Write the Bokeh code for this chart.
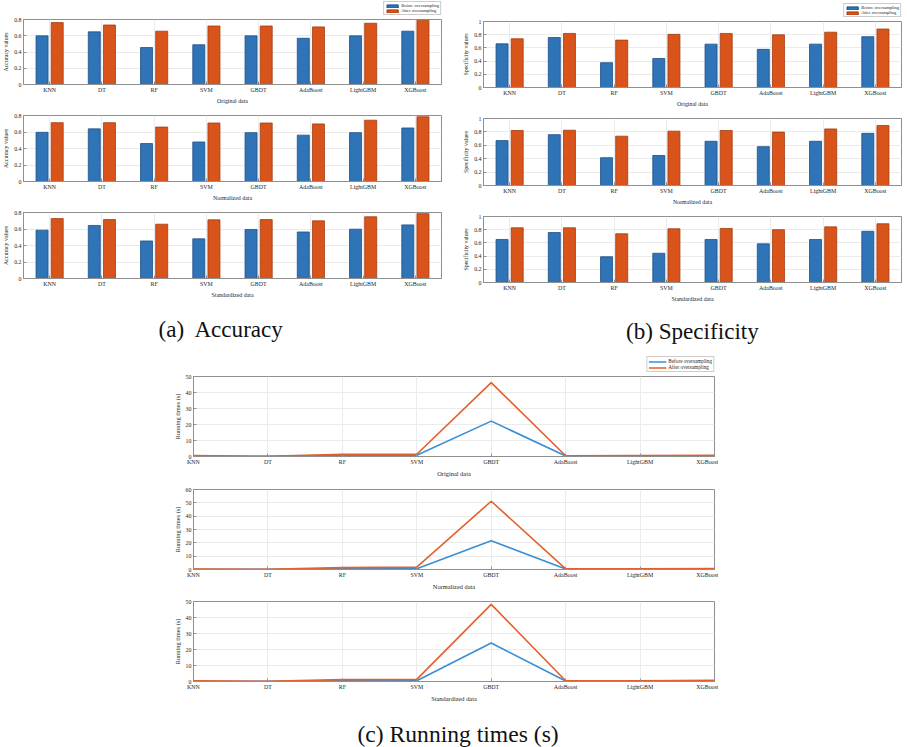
import numpy as np
from bokeh.plotting import figure
from bokeh.models import (Range1d, FixedTicker, NumeralTickFormatter, Legend, LegendItem,
                          Div, Spacer, ColumnDataSource)
from bokeh.transform import dodge
from bokeh.layouts import column, row
from bokeh.embed import file_html
from bokeh.resources import INLINE

# ---------------- data ----------------
models = ["KNN", "DT", "RF", "SVM", "GBDT", "AdaBoost", "LightGBM", "XGBoost"]
series_labels = ["Before oversampling", "After oversampling"]
data_kinds = ["Original data", "Normalized data", "Standardized data"]

acc_before_original = [0.599, 0.648, 0.455, 0.489, 0.599, 0.569, 0.599, 0.656]
acc_after_original = [0.762, 0.732, 0.656, 0.720, 0.720, 0.709, 0.754, 0.792]
acc_before_normalized = [0.596, 0.638, 0.460, 0.479, 0.592, 0.562, 0.592, 0.649]
acc_after_normalized = [0.713, 0.713, 0.660, 0.709, 0.709, 0.698, 0.743, 0.785]
acc_before_standardized = [0.586, 0.643, 0.455, 0.481, 0.594, 0.564, 0.598, 0.650]
acc_after_standardized = [0.726, 0.714, 0.658, 0.711, 0.714, 0.699, 0.748, 0.786]

spec_before_original = [0.662, 0.757, 0.376, 0.440, 0.657, 0.578, 0.657, 0.770]
spec_after_original = [0.738, 0.819, 0.718, 0.805, 0.819, 0.798, 0.838, 0.886]
spec_before_normalized = [0.670, 0.759, 0.415, 0.448, 0.660, 0.580, 0.660, 0.778]
spec_after_normalized = [0.821, 0.825, 0.736, 0.811, 0.821, 0.797, 0.844, 0.896]
spec_before_standardized = [0.652, 0.757, 0.390, 0.443, 0.652, 0.586, 0.652, 0.776]
spec_after_standardized = [0.829, 0.829, 0.738, 0.814, 0.819, 0.800, 0.843, 0.890]

time_before_original = [0.3, 0.1, 0.8, 0.8, 22.1, 0.3, 0.3, 0.4]
time_after_original = [0.6, 0.1, 1.3, 1.4, 46.2, 0.5, 0.6, 0.7]
time_before_normalized = [0.2, 0.1, 0.7, 0.6, 21.5, 0.3, 0.3, 0.4]
time_after_normalized = [0.4, 0.2, 1.4, 1.8, 51.2, 0.5, 0.6, 0.8]
time_before_standardized = [0.2, 0.1, 0.6, 0.5, 24.1, 0.3, 0.3, 0.4]
time_after_standardized = [0.4, 0.1, 1.2, 1.3, 48.2, 0.5, 0.5, 0.7]

acc_ticks = [0, 0.2, 0.4, 0.6, 0.8]
spec_ticks = [0, 0.2, 0.4, 0.6, 0.8, 1]
time_ticks_50 = [0, 10, 20, 30, 40, 50]
time_ticks_60 = [0, 10, 20, 30, 40, 50, 60]

captions = ["(a)&nbsp; Accuracy", "(b) Specificity", "(c) Running times (s)"]

# ---------------- style ----------------
S = 0.985
def sc(v):
    return int(round(v * S))

SERIF = "Liberation Serif"
BAR_BLUE, BAR_BLUE_EDGE = "#2F74B6", "#1E4F88"
BAR_ORANGE, BAR_ORANGE_EDGE = "#D9541A", "#A33B10"
LINE_BLUE, LINE_ORANGE = "#3A8ED4", "#E2602B"
FRAME = "#8f8f8f"
GRID = "#ebebeb"
TXT = "#262626"


def make_fig(W, H, L, R, T, B, xr, yr):
    return figure(width=sc(W), height=sc(H), x_range=xr, y_range=yr,
                  output_backend="svg", toolbar_location=None,
                  min_border_left=sc(L), min_border_right=sc(R),
                  min_border_top=sc(T), min_border_bottom=sc(B))


def style(p, xticks, yticks, xlabel, ylabel, fs_tick, fs_lab):
    p.xaxis.ticker = FixedTicker(ticks=list(xticks))
    p.xaxis.major_label_overrides = {int(t): m for t, m in zip(xticks, models)}
    p.yaxis.ticker = FixedTicker(ticks=yticks)
    p.yaxis.formatter = NumeralTickFormatter(format="0.[0]")
    p.xaxis.axis_label = xlabel
    p.yaxis.axis_label = ylabel
    for ax in p.axis:
        ax.major_label_text_font = SERIF
        ax.major_label_text_font_size = f"{fs_tick * S:.1f}px"
        ax.major_label_text_color = TXT
        ax.axis_label_text_font = SERIF
        ax.axis_label_text_font_style = "normal"
        ax.axis_label_text_font_size = f"{fs_lab * S:.1f}px"
        ax.axis_label_text_color = TXT
        ax.major_tick_in = 3
        ax.major_tick_out = 0
        ax.minor_tick_line_color = None
        ax.axis_line_color = FRAME
        ax.major_tick_line_color = FRAME
        ax.major_label_standoff = 2
        ax.axis_label_standoff = 2
    p.grid.grid_line_color = GRID
    p.outline_line_color = FRAME
    p.background_fill_color = "white"
    p.border_fill_color = "white"


def legend_box(kind, w, h, fs, gw, gh):
    """A small legend panel drawn above the first subplot of a column.
    The proxy glyphs sit outside the (hidden) ranges, so only their legend swatches show."""
    lp = figure(width=sc(w), height=sc(h), x_range=Range1d(0, 1), y_range=Range1d(0, 1),
                x_axis_type=None, y_axis_type=None, output_backend="svg",
                toolbar_location=None, min_border=0, outline_line_color=None)
    lp.grid.visible = False
    lp.background_fill_color = "white"
    lp.border_fill_color = "white"
    proxy = ColumnDataSource(dict(x=[-5, -4], y=[-5, -4]))
    if kind == "bar":
        r1 = lp.vbar(x="x", top="y", width=0.2, source=proxy,
                     fill_color=BAR_BLUE, line_color=BAR_BLUE_EDGE)
        r2 = lp.vbar(x="x", top="y", width=0.2, source=proxy,
                     fill_color=BAR_ORANGE, line_color=BAR_ORANGE_EDGE)
    else:
        r1 = lp.line(x="x", y="y", source=proxy, line_color=LINE_BLUE, line_width=1.6)
        r2 = lp.line(x="x", y="y", source=proxy, line_color=LINE_ORANGE, line_width=1.6)
    items = [LegendItem(label=lab, renderers=[r]) for lab, r in zip(series_labels, [r1, r2])]
    lg = Legend(items=items, location="bottom_right", orientation="vertical",
                label_text_font=SERIF, label_text_font_size=f"{fs * S:.1f}px",
                label_text_color=TXT, glyph_width=sc(gw), glyph_height=sc(gh),
                label_height=sc(gh), label_standoff=2, spacing=0, padding=1,
                margin=1, border_line_color="#9a9a9a", border_line_width=1,
                background_fill_color="white", background_fill_alpha=1)
    lp.add_layout(lg, "center")
    return lp


def bar_fig(dims, before, after, ymax, yticks, xlabel, ylabel):
    W, H, L, R, T, B = dims
    n = len(models)
    p = make_fig(W, H, L, R, T, B, Range1d(0.5, n + 0.5), Range1d(0, ymax))
    src = ColumnDataSource(dict(x=list(range(1, n + 1)), before=before, after=after))
    p.vbar(x=dodge("x", -0.145), top="before", width=0.23, source=src,
           fill_color=BAR_BLUE, line_color=BAR_BLUE_EDGE, line_width=0.8)
    p.vbar(x=dodge("x", 0.145), top="after", width=0.23, source=src,
           fill_color=BAR_ORANGE, line_color=BAR_ORANGE_EDGE, line_width=0.8)
    style(p, range(1, n + 1), yticks, xlabel, ylabel, 6, 6)
    return p


def line_fig(dims, before, after, ymax, yticks, xlabel):
    W, H, L, R, T, B = dims
    n = len(models)
    p = make_fig(W, H, L, R, T, B, Range1d(1, n), Range1d(0, ymax))
    xs = list(range(1, n + 1))
    p.line(xs, before, line_color=LINE_BLUE, line_width=1.6)
    p.line(xs, after, line_color=LINE_ORANGE, line_width=1.6)
    style(p, xs, yticks, xlabel, "Running times (s)", 6, 6.5)
    return p


def caption(text, W, H, cx, cy, fs):
    html = (f'<div style="margin-left:{(cx - 200) * S:.1f}px; width:{400 * S:.1f}px; '
            f'text-align:center; padding-top:{(cy - 14) * S:.1f}px; '
            f'font-family:\'{SERIF}\'; font-size:{fs * S:.1f}px; line-height:{28 * S:.1f}px; '
            f'color:#111; white-space:nowrap;">{text}</div>')
    return Div(text=html, width=sc(W), height=sc(H))


def legend_row(fig_w, right_border, leg_w, leg_fig):
    return row(Spacer(width=sc(fig_w) - sc(right_border) - sc(leg_w) + 1, height=sc(4)),
               leg_fig, spacing=0)


# ---------------- panels ----------------
# (width, height, left, right, top, bottom) in reference pixels
dA1, dA2, dA3 = (450, 91, 20, 2, 3, 18), (450, 98, 20, 2, 9, 18), (450, 98, 20, 2, 9, 18)
dB1, dB2, dB3 = (457, 92, 30, 2, 3, 19), (457, 99, 30, 2, 9, 19), (457, 98, 30, 2, 9, 19)
dC1, dC2, dC3 = (563, 108, 30, 4, 3, 23), (563, 115, 30, 4, 10, 23), (563, 115, 30, 4, 9, 24)

legA = legend_box("bar", 62, 16, 4.6, 14, 4)
legB = legend_box("bar", 62, 18, 4.6, 14, 4)
legC = legend_box("line", 78, 22, 5.3, 18, 5)

a1 = bar_fig(dA1, acc_before_original, acc_after_original, 0.8, acc_ticks,
             data_kinds[0], "Accuracy values")
a2 = bar_fig(dA2, acc_before_normalized, acc_after_normalized, 0.8, acc_ticks,
             data_kinds[1], "Accuracy values")
a3 = bar_fig(dA3, acc_before_standardized, acc_after_standardized, 0.8, acc_ticks,
             data_kinds[2], "Accuracy values")
capA = caption(captions[0], 450, 42, 219, 25, 23.5)

b1 = bar_fig(dB1, spec_before_original, spec_after_original, 1.0, spec_ticks,
             data_kinds[0], "Specificity values")
b2 = bar_fig(dB2, spec_before_normalized, spec_after_normalized, 1.0, spec_ticks,
             data_kinds[1], "Specificity values")
b3 = bar_fig(dB3, spec_before_standardized, spec_after_standardized, 1.0, spec_ticks,
             data_kinds[2], "Specificity values")
capB = caption(captions[1], 457, 38, 238, 23, 23.5)

c1 = line_fig(dC1, time_before_original, time_after_original, 50, time_ticks_50, data_kinds[0])
c2 = line_fig(dC2, time_before_normalized, time_after_normalized, 60, time_ticks_60, data_kinds[1])
c3 = line_fig(dC3, time_before_standardized, time_after_standardized, 50, time_ticks_50, data_kinds[2])
capC = caption(captions[2], 563, 42, 294.5, 25, 24)

colA = column(legend_row(450, 2, 62, legA), a1, a2, a3, capA, spacing=0)
colB = column(legend_row(457, 2, 62, legB), b1, b2, b3, capB, spacing=0)
colC = column(legend_row(563, 4, 78, legC), c1, c2, c3, capC, spacing=0)
layout = column(row(colA, colB, spacing=0),
                row(Spacer(width=sc(165), height=10), colC, spacing=0), spacing=0)

open("out.html", "w").write(file_html(layout, INLINE))
